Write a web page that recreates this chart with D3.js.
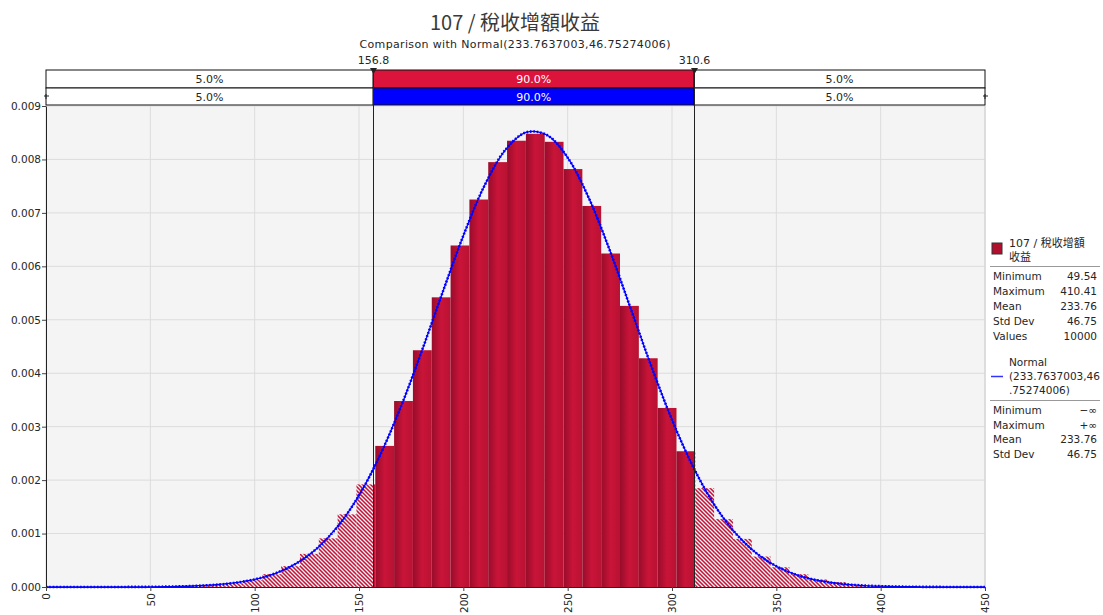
<!DOCTYPE html>
<html lang="en">
<head>
<meta charset="UTF-8" />
<title>107 / 稅收增額收益</title>
<script src="https://d3js.org/d3.v7.min.js"></script>
<style>
  body { margin: 0; background: #fff; }
  text { font-family: "DejaVu Sans", "Noto Sans CJK TC", sans-serif; fill: #262626; }
</style>
</head>
<body>
<svg width="1103" height="615"></svg>
<script>
// ---- data ----
var binEdges = [49.54, 58.56, 67.58, 76.61, 85.63, 94.65, 103.67, 112.69, 121.71, 130.74,
                139.76, 148.78, 157.80, 166.82, 175.84, 184.87, 193.89, 202.91, 211.93, 220.95,
                229.98, 239.00, 248.02, 257.04, 266.06, 275.08, 284.11, 293.13, 302.15, 311.17,
                320.19, 329.22, 338.24, 347.26, 356.28, 365.30, 374.33, 383.35, 392.37, 401.39, 410.41];
var binDensity = [0.000005, 0.00001, 0.00002, 0.00004, 0.00007, 0.00013, 0.00024, 0.00039, 0.00062, 0.00091,
                  0.00136, 0.00192, 0.00264, 0.00348, 0.00443, 0.00542, 0.00639, 0.00725, 0.00795, 0.00835,
                  0.00848, 0.00833, 0.00782, 0.00713, 0.00624, 0.00526, 0.00428, 0.00335, 0.00254, 0.00185,
                  0.00127, 0.00090, 0.00057, 0.00037, 0.00024, 0.00014, 0.00009, 0.00004, 0.00002, 0.00001];
var curveX = [0, 10, 20, 30, 40, 50, 60, 70, 80, 90, 100, 110, 120, 130, 140, 150, 160, 170, 180, 190,
              200, 210, 220, 230, 240, 250, 260, 270, 280, 290, 300, 310, 320, 330, 340, 350, 360, 370,
              380, 390, 400, 410, 420, 430, 440, 450];
var curveY = [0, 0.0000001, 0.0000003, 0.0000006, 0.0000016, 0.0000038, 0.0000086, 0.0000185, 0.0000382, 0.0000755,
              0.0001424, 0.0002567, 0.000442, 0.000727, 0.001142, 0.001714, 0.002458, 0.003366, 0.004405, 0.005506,
              0.006574, 0.007499, 0.008171, 0.008506, 0.008458, 0.008034, 0.007290, 0.006319, 0.005233, 0.004140,
              0.003128, 0.002258, 0.001557, 0.001026, 0.000646, 0.000388, 0.000223, 0.000122, 0.0000641, 0.0000321,
              0.0000153, 0.000007, 0.0000031, 0.0000013, 0.0000005, 0.0000002];
var delimiters = [156.8, 310.6];
var delimiterLabels = ["156.8", "310.6"];
var bandLabels = ["5.0%", "90.0%", "5.0%"];
var xTicks = [0, 50, 100, 150, 200, 250, 300, 350, 400, 450];
var yTicks = [0, 0.001, 0.002, 0.003, 0.004, 0.005, 0.006, 0.007, 0.008, 0.009];
var statNames = ["Minimum", "Maximum", "Mean", "Std Dev", "Values"];
var statValues = ["49.54", "410.41", "233.76", "46.75", "10000"];
var normalStatNames = ["Minimum", "Maximum", "Mean", "Std Dev"];
var normalStatValues = ["\u2212\u221e", "+\u221e", "233.76", "46.75"];

var svg = d3.select("svg");
var plotL = 46, plotR = 985, plotT = 106, plotB = 587;

var x = d3.scaleLinear().domain([0, 450]).range([plotL, plotR]);
var y = d3.scaleLinear().domain([0, 0.009]).range([plotB, plotT]);

// defs: bar gradient + hatch
var defs = svg.append("defs");
var grad = defs.append("linearGradient").attr("id", "barGrad")
  .attr("x1", "0%").attr("x2", "100%").attr("y1", "0%").attr("y2", "0%");
grad.append("stop").attr("offset", "0%").attr("stop-color", "#990c2b");
grad.append("stop").attr("offset", "50%").attr("stop-color", "#c91438");
grad.append("stop").attr("offset", "100%").attr("stop-color", "#b81233");

var hatch = defs.append("pattern").attr("id", "hatch")
  .attr("patternUnits", "userSpaceOnUse").attr("width", 4).attr("height", 4);
hatch.append("rect").attr("width", 4).attr("height", 4).attr("fill", "#c0143a");
hatch.append("path").attr("d", "M-1,3 l2,2 M0,0 l4,4 M3,-1 l2,2")
  .attr("stroke", "#f6eef0").attr("stroke-width", 1.3);

// title
svg.append("text").attr("x", 515).attr("y", 30).attr("text-anchor", "middle")
  .style("font-family", "'Noto Sans CJK TC', sans-serif").style("font-size", "20px").style("fill", "#3a3a3a")
  .text("107 / 稅收增額收益");
svg.append("text").attr("x", 515).attr("y", 48).attr("text-anchor", "middle")
  .attr("textLength", 311).attr("lengthAdjust", "spacing")
  .style("font-size", "11px")
  .text("Comparison with Normal(233.7637003,46.75274006)");

// plot background + grid
svg.append("rect").attr("x", plotL).attr("y", plotT).attr("width", plotR - plotL).attr("height", plotB - plotT)
  .attr("fill", "#f4f4f4");
svg.append("g").selectAll("line").data(xTicks).enter().append("line")
  .attr("x1", function(d) { return x(d); }).attr("x2", function(d) { return x(d); })
  .attr("y1", plotT).attr("y2", plotB).attr("stroke", "#dcdcdc");
svg.append("g").selectAll("line").data(yTicks).enter().append("line")
  .attr("x1", plotL).attr("x2", plotR)
  .attr("y1", function(d) { return y(d); }).attr("y2", function(d) { return y(d); })
  .attr("stroke", "#dcdcdc");
svg.append("line").attr("x1", plotR).attr("x2", plotR).attr("y1", plotT).attr("y2", plotB).attr("stroke", "#d0d0d0");

// histogram pieces split at the delimiters
var pieces = [];
binDensity.forEach(function(d, i) {
  var a = binEdges[i], b = binEdges[i + 1];
  var cuts = [a, b];
  delimiters.forEach(function(c) { if (c > a && c < b) cuts.splice(cuts.length - 1, 0, c); });
  for (var k = 0; k < cuts.length - 1; k++) {
    var lo = cuts[k], hi = cuts[k + 1], mid = (lo + hi) / 2;
    pieces.push({ lo: lo, hi: hi, v: d, solid: mid > delimiters[0] && mid < delimiters[1] });
  }
});

svg.append("g").selectAll("rect").data(pieces).enter().append("rect")
  .attr("x", function(d) { return x(d.lo); })
  .attr("width", function(d) { return x(d.hi) - x(d.lo); })
  .attr("y", function(d) { return y(d.v); })
  .attr("height", function(d) { return plotB - y(d.v); })
  .attr("fill", function(d) { return d.solid ? "url(#barGrad)" : "url(#hatch)"; });

// normal curve
var pts = curveX.map(function(v, i) { return [v, curveY[i]]; });
var line = d3.line().x(function(d) { return x(d[0]); }).y(function(d) { return y(d[1]); })
  .curve(d3.curveCatmullRom);
svg.append("path").attr("d", line(pts)).attr("fill", "none").attr("stroke", "#0000ff").attr("stroke-width", 1.3);
svg.append("path").attr("d", line(pts)).attr("fill", "none").attr("stroke", "#0000ff")
  .attr("stroke-width", 2.6).attr("stroke-dasharray", "1.6,1.8");

// axes
var yAxis = svg.append("g").attr("transform", "translate(" + plotL + ",0)")
  .call(d3.axisLeft(y).tickValues(yTicks).tickFormat(d3.format(".3f")).tickSize(4).tickSizeOuter(0));
var xAxis = svg.append("g").attr("transform", "translate(0," + plotB + ")")
  .call(d3.axisBottom(x).tickValues(xTicks).tickSize(4).tickSizeOuter(0));
[yAxis, xAxis].forEach(function(a) {
  a.select(".domain").attr("stroke", "#222");
  a.selectAll(".tick line").attr("stroke", "#444");
  a.selectAll("text").style("font-size", "10.5px").style("font-family", "'DejaVu Sans', sans-serif").attr("fill", "#262626");
});
yAxis.selectAll("text").attr("x", -5);
xAxis.selectAll("text")
  .attr("transform", "rotate(-90)")
  .attr("text-anchor", "end")
  .attr("x", -6).attr("y", 0).attr("dy", "0.35em");

// probability bands
var bandRows = [{ y: 70, h: 18, fill: "#dc143c" }, { y: 88, h: 17, fill: "#0000ff" }];
var bounds = [0, delimiters[0], delimiters[1], 450];
bandRows.forEach(function(r) {
  var g = svg.append("g");
  bandLabels.forEach(function(lab, j) {
    var x0 = x(bounds[j]), x1 = x(bounds[j + 1]);
    g.append("rect").attr("x", x0).attr("y", r.y).attr("width", x1 - x0).attr("height", r.h)
      .attr("fill", j === 1 ? r.fill : "#fff").attr("stroke", "#111").attr("stroke-width", 1);
    g.append("text").attr("x", (x0 + x1) / 2).attr("y", r.y + r.h / 2 + 4).attr("text-anchor", "middle")
      .style("font-size", "11px").style("fill", j === 1 ? "#fff" : "#262626").text(lab);
  });
});

// small end ticks on the second row
[plotL, plotR].forEach(function(px) {
  svg.append("line").attr("x1", px - 2).attr("x2", px + 3).attr("y1", 96).attr("y2", 96).attr("stroke", "#222");
  svg.append("line").attr("x1", px).attr("x2", px).attr("y1", 94).attr("y2", 99).attr("stroke", "#222");
});

// delimiter lines, markers and labels
delimiters.forEach(function(dv, i) {
  var px = Math.round(x(dv)) + 0.5;
  svg.append("line").attr("x1", px).attr("x2", px).attr("y1", 70).attr("y2", plotB)
    .attr("stroke", "#222").attr("stroke-width", 1);
  svg.append("path").attr("d", "M" + (px - 3.5) + ",68 L" + (px + 3.5) + ",68 L" + px + ",74 Z").attr("fill", "#222");
  svg.append("text").attr("x", px).attr("y", 64).attr("text-anchor", "middle")
    .style("font-size", "11px").text(delimiterLabels[i]);
});

// legend
var lg = svg.append("g");
lg.append("rect").attr("x", 992).attr("y", 243).attr("width", 10).attr("height", 11)
  .attr("fill", "#b0102e").attr("stroke", "#333");
lg.append("text").attr("x", 1009).attr("y", 247).style("font-size", "11px").text("107 / 稅收增額");
lg.append("text").attr("x", 1009).attr("y", 261).style("font-size", "11px").text("收益");
lg.append("line").attr("x1", 990).attr("x2", 1100).attr("y1", 266.5).attr("y2", 266.5).attr("stroke", "#999");
statNames.forEach(function(n, i) {
  var yy = 280 + i * 15;
  lg.append("text").attr("x", 993).attr("y", yy).style("font-size", "10.5px").text(n);
  lg.append("text").attr("x", 1097).attr("y", yy).attr("text-anchor", "end").style("font-size", "10.5px").text(statValues[i]);
});
lg.append("line").attr("x1", 991).attr("x2", 1003).attr("y1", 376.5).attr("y2", 376.5).attr("stroke", "#3333ff").attr("stroke-width", 1.5);
["Normal", "(233.7637003,46", ".75274006)"].forEach(function(t, i) {
  lg.append("text").attr("x", 1009).attr("y", 366 + i * 14).style("font-size", "10.5px").text(t);
});
lg.append("line").attr("x1", 990).attr("x2", 1100).attr("y1", 400.5).attr("y2", 400.5).attr("stroke", "#999");
normalStatNames.forEach(function(n, i) {
  var yy = 414 + i * 14.5;
  lg.append("text").attr("x", 993).attr("y", yy).style("font-size", "10.5px").text(n);
  lg.append("text").attr("x", 1097).attr("y", yy).attr("text-anchor", "end").style("font-size", "10.5px").text(normalStatValues[i]);
});
</script>
</body>
</html>
